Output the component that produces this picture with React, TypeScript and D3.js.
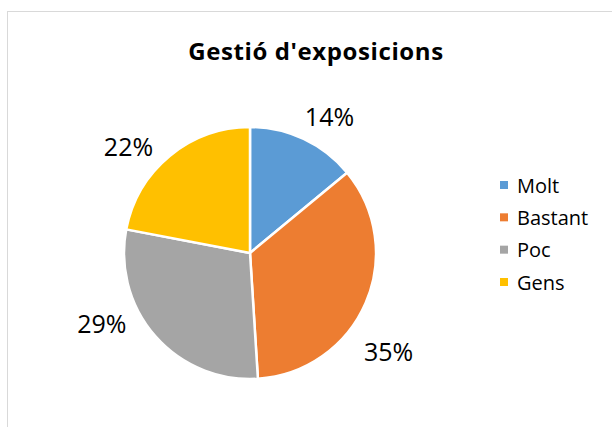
import React from "react";
import * as d3 from "d3";

const categories = ["Molt", "Bastant", "Poc", "Gens"];
const values = [14, 35, 29, 22];
const colors = ["#5b9bd5", "#ed7d31", "#a5a5a5", "#ffc000"];
const title = "Gestió d'exposicions";

const W = 612;
const H = 427;
const cx = 250;
const cy = 253;
const R = 126;
const FONT = "'Open Sans', Lato, sans-serif";

// Excel "best fit" pushes labels a little off the slice bisector
const labelNudge = [5, 12, 16, -9];
const labelR = [158, 170, 164, 162];

export default function App() {
  const pie = d3
    .pie<number>()
    .sort(null)
    .value((d) => d);
  const arcs = pie(values);
  const arc = d3.arc<d3.PieArcDatum<number>>().innerRadius(0).outerRadius(R);
  const total = d3.sum(values);

  const legendY = d3
    .scalePoint<string>()
    .domain(categories)
    .range([185, 282]);

  return (
    <svg
      width={W}
      height={H}
      style={{ position: "absolute", left: 0, top: 0, background: "#fff" }}
    >
      <rect x={7.5} y={11.5} width={W} height={H} fill="#fff" stroke="#d9d9d9" />
      <text
        x={316}
        y={60}
        textAnchor="middle"
        fontFamily={FONT}
        fontWeight="bold"
        fontSize={24}
        letterSpacing={0.6}
        fill="#000"
      >
        {title}
      </text>
      <g transform={`translate(${cx},${cy})`}>
        {arcs.map((a, i) => (
          <path
            key={categories[i]}
            d={arc(a) || ""}
            fill={colors[i]}
            stroke="#fff"
            strokeWidth={2.5}
            strokeLinejoin="round"
          />
        ))}
        {arcs.map((a, i) => {
          const mid = (a.startAngle + a.endAngle) / 2 + (labelNudge[i] * Math.PI) / 180;
          const x = labelR[i] * Math.sin(mid);
          const y = -labelR[i] * Math.cos(mid);
          return (
            <text
              key={"l" + i}
              x={x}
              y={y}
              textAnchor="middle"
              dominantBaseline="central"
              fontFamily={FONT}
              fontSize={25}
              fill="#000"
            >
              {Math.round((values[i] / total) * 100)}%
            </text>
          );
        })}
      </g>
      {categories.map((c, i) => (
        <g key={c} transform={`translate(500,${legendY(c)})`}>
          <rect x={0} y={-4} width={8} height={8} fill={colors[i]} />
          <text
            x={17}
            y={0}
            dominantBaseline="central"
            fontFamily={FONT}
            fontSize={20}
            fill="#000"
          >
            {c}
          </text>
        </g>
      ))}
    </svg>
  );
}
